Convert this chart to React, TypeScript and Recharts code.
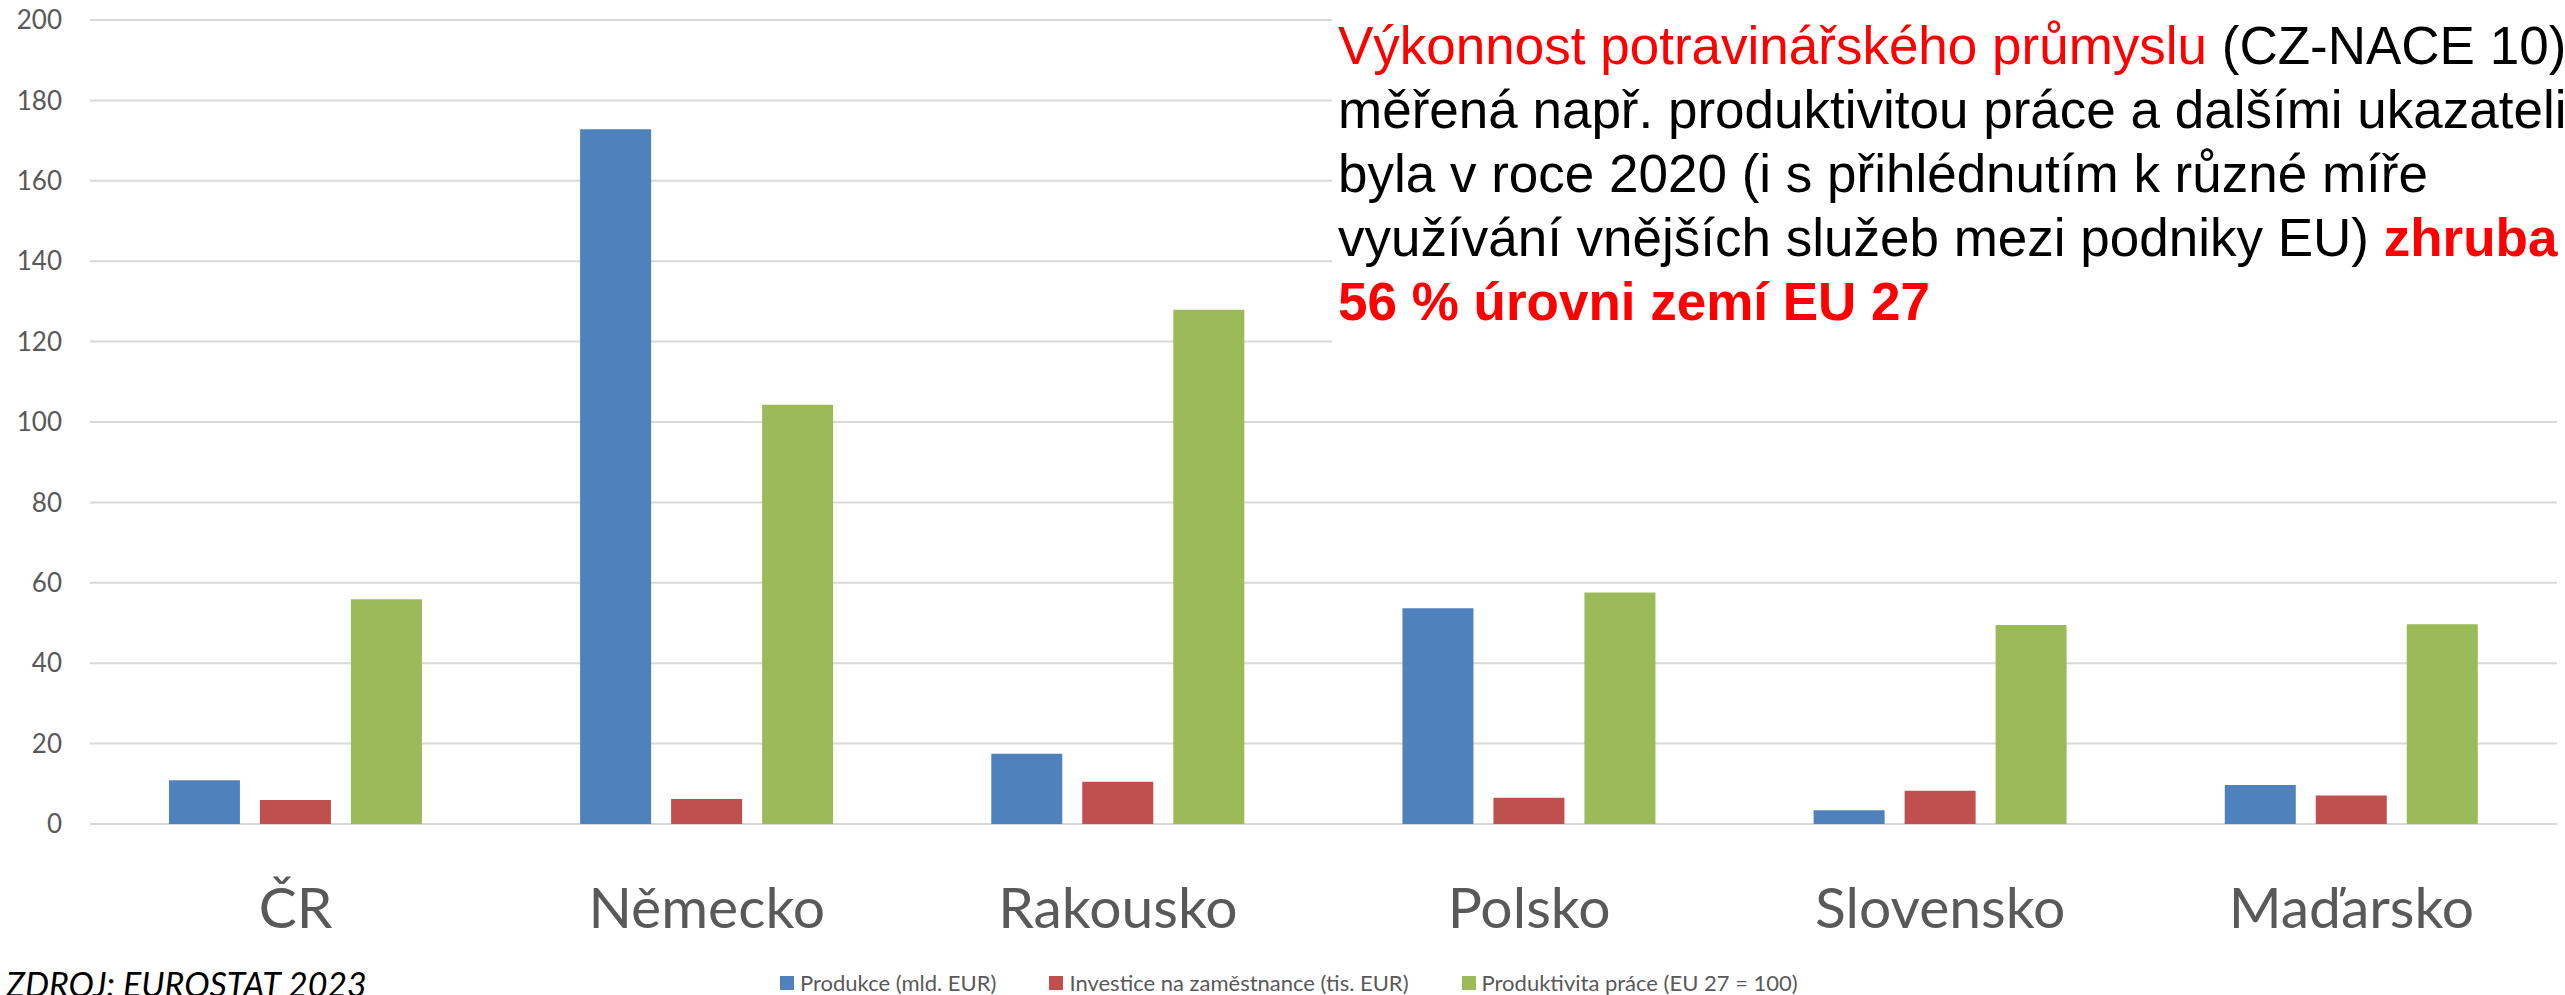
import React from 'react';
import { BarChart, Bar, XAxis, YAxis, CartesianGrid } from 'recharts';

const countries = ['ČR', 'Německo', 'Rakousko', 'Polsko', 'Slovensko', 'Maďarsko'];
const produkce = [10.9, 172.8, 17.5, 53.7, 3.4, 9.7];
const investice = [6.0, 6.2, 10.5, 6.5, 8.3, 7.1];
const produktivita = [55.9, 104.3, 127.9, 57.6, 49.5, 49.7];
const yTicks = [0, 20, 40, 60, 80, 100, 120, 140, 160, 180, 200];

const seriesKeys = ['produkce', 'investice', 'produktivita'];
const seriesNames = [
  'Produkce (mld. EUR)',
  'Investice na zaměstnance (tis. EUR)',
  'Produktivita práce (EU 27 = 100)',
];
const seriesColors = ['#4F81BD', '#C0504D', '#9BBB59'];

const sourceLabel = 'ZDROJ: EUROSTAT 2023';

// title segments per line: [text, red, bold]
const titleLines: [string, boolean, boolean][][] = [
  [['Výkonnost potravinářského průmyslu', true, false], [' (CZ-NACE 10)', false, false]],
  [['měřená např. produktivitou práce a dalšími ukazateli', false, false]],
  [['byla v roce 2020 (i s přihlédnutím k různé míře', false, false]],
  [['využívání vnějších služeb mezi podniky EU) ', false, false], ['zhruba', true, true]],
  [['56 % úrovni zemí EU 27', true, true]],
];

const data = countries.map((name, i) => ({
  name,
  produkce: produkce[i],
  investice: investice[i],
  produktivita: produktivita[i],
}));

const W = 2565;
const H = 995;
const axisFont = 'Lato, "Noto Sans", sans-serif';

const App = () => {
  return (
    <div style={{ position: 'absolute', left: 0, top: 0, width: W, height: H, overflow: 'hidden', background: '#fff' }}>
      <BarChart
        width={W}
        height={H}
        data={data}
        margin={{ top: 20, right: 8, left: 0, bottom: 51 }}
        barCategoryGap="19.2%"
        barGap={20}
      >
        <CartesianGrid vertical={false} stroke="#D9D9D9" strokeWidth={2} />
        <XAxis
          dataKey="name"
          axisLine={false}
          tickLine={false}
          tickSize={0}
          tickMargin={64}
          height={120}
          interval={0}
          tick={{ fontSize: 57, fill: '#595959', fontFamily: axisFont }}
        />
        <YAxis
          domain={[0, 200]}
          ticks={yTicks}
          axisLine={false}
          tickLine={false}
          tickSize={0}
          tickMargin={28}
          width={90}
          tick={{ fontSize: 26, fill: '#595959', fontFamily: axisFont }}
        />
        {seriesKeys.map((k, i) => (
          <Bar key={k} dataKey={k} name={seriesNames[i]} fill={seriesColors[i]} isAnimationActive={false} />
        ))}
      </BarChart>

      <svg width={W} height={H} style={{ position: 'absolute', left: 0, top: 0, pointerEvents: 'none' }}>
        <rect x={1332} y={0} width={W - 1332} height={372} fill="#fff" />
        {titleLines.map((line, li) => (
          <text
            key={li}
            x={1338}
            y={64 + li * 64}
            fontSize={53}
            fontFamily='"Liberation Sans", Arial, sans-serif'
            style={{ whiteSpace: 'pre' }}
          >
            {line.map(([t, red, bold], si) => (
              <tspan key={si} fill={red ? '#FF0000' : '#000'} fontWeight={bold ? 700 : 400}>
                {t}
              </tspan>
            ))}
          </text>
        ))}
        <text x={6} y={997} fontSize={34} fontStyle="italic" fontFamily={axisFont} fill="#000">
          {sourceLabel}
        </text>
      </svg>

      <div
        style={{
          position: 'absolute',
          left: 780,
          top: 972,
          display: 'flex',
          alignItems: 'center',
          gap: 53,
          fontFamily: axisFont,
          fontSize: 22,
          lineHeight: '22px',
          color: '#595959',
          whiteSpace: 'nowrap',
        }}
      >
        {seriesNames.map((n, i) => (
          <div key={n} style={{ display: 'flex', alignItems: 'center' }}>
            <span style={{ display: 'inline-block', width: 14, height: 14, background: seriesColors[i], marginRight: 6 }} />
            <span>{n}</span>
          </div>
        ))}
      </div>
    </div>
  );
};

export default App;
